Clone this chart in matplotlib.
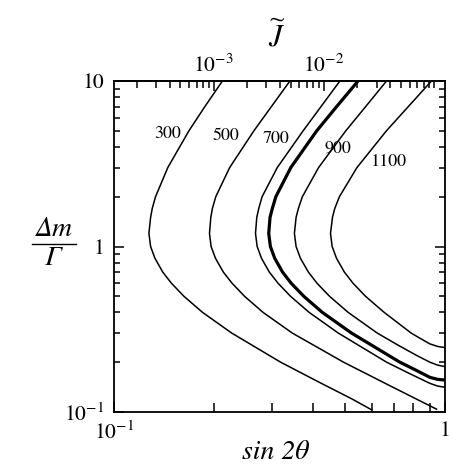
import matplotlib
matplotlib.use('Agg')
import matplotlib.pyplot as plt
from matplotlib.lines import Line2D
from matplotlib.ticker import NullFormatter, FixedLocator
import numpy as np

plt.rcParams['font.family'] = ['STIXGeneral', 'DejaVu Sans']
plt.rcParams['mathtext.fontset'] = 'stix'

# ---- data ----
y_300 = [10, 7, 5, 3, 2, 1.7, 1.5, 1.2, 1, 0.85, 0.7, 0.6, 0.5, 0.4, 0.3, 0.2, 0.15, 0.12, 0.103]
x_300 = [0.2126, 0.1881, 0.1684, 0.1454, 0.1335, 0.1305, 0.1290, 0.1275, 0.1290, 0.1329,
         0.1404, 0.1491, 0.1627, 0.1851, 0.2267, 0.3187, 0.4202, 0.5231, 0.6006]

y_500 = [10, 7, 5, 3, 2, 1.7, 1.5, 1.2, 1, 0.85, 0.7, 0.6, 0.5, 0.4, 0.3, 0.2, 0.15, 0.12, 0.104]
x_500 = [0.3400, 0.2988, 0.2646, 0.2236, 0.2030, 0.1983, 0.1961, 0.1943, 0.1965, 0.2025,
         0.2140, 0.2273, 0.2480, 0.2820, 0.3455, 0.4937, 0.6553, 0.8176, 0.9430]

y_700 = [10, 7, 5, 3, 2, 1.7, 1.5, 1.2, 1, 0.85, 0.7, 0.6, 0.5, 0.4, 0.3, 0.2, 0.171, 0.149,
         0.1435, 0.141]
x_700 = [0.4814, 0.4220, 0.3727, 0.3114, 0.2802, 0.2738, 0.2700, 0.2676, 0.2707, 0.2789,
         0.2947, 0.3130, 0.3415, 0.3886, 0.4759, 0.6661, 0.78, 0.90, 0.95, 1.0]

y_thick = [10, 7, 5, 3, 2, 1.7, 1.5, 1.2, 1, 0.85, 0.7, 0.6, 0.5, 0.4, 0.3, 0.2, 0.1805, 0.162,
           0.1575, 0.156]
x_thick = [0.5462, 0.4704, 0.4097, 0.3421, 0.3083, 0.3009, 0.2961, 0.2934, 0.2968, 0.3058,
           0.3231, 0.3430, 0.3745, 0.4259, 0.5217, 0.7303, 0.81, 0.90, 0.95, 1.0]

y_900 = [10, 7, 5, 3, 2, 1.7, 1.5, 1.2, 1, 0.85, 0.7, 0.6, 0.5, 0.4, 0.3, 0.254, 0.22, 0.2,
         0.192, 0.188]
x_900 = [0.6659, 0.5757, 0.5015, 0.4151, 0.3708, 0.3607, 0.3549, 0.3508, 0.3549, 0.3657,
         0.3867, 0.4105, 0.4480, 0.5097, 0.6240, 0.72, 0.82, 0.90, 0.95, 1.0]

y_1100 = [10, 7, 5, 3, 2, 1.7, 1.5, 1.2, 1, 0.85, 0.7, 0.6, 0.5, 0.4, 0.3, 0.279, 0.258,
          0.249, 0.245]
x_1100 = [0.9101, 0.7745, 0.6653, 0.5420, 0.4798, 0.4646, 0.4571, 0.4509, 0.4561, 0.4700,
          0.4967, 0.5273, 0.5755, 0.6549, 0.79, 0.84, 0.90, 0.95, 1.0]

label_text = ['300', '500', '700', '900', '1100']
label_x = [0.1456, 0.2181, 0.3086, 0.4733, 0.6774]
label_y = [4.785, 4.653, 4.462, 3.922, 3.218]

x_major = [0.1, 1]
x_major_labels = [r'$10^{-1}$', '1']
y_major = [0.1, 1, 10]
y_major_labels = [r'$10^{-1}$', '1', '10']
j_major = [1e-3, 1e-2]
j_major_labels = [r'$10^{-3}$', r'$10^{-2}$']
j_minor = [2e-4, 3e-4, 4e-4, 5e-4, 6e-4, 7e-4, 8e-4, 9e-4,
           2e-3, 3e-3, 4e-3, 5e-3, 6e-3, 7e-3, 8e-3, 9e-3,
           2e-2, 3e-2, 4e-2, 5e-2, 6e-2, 7e-2, 8e-2, 9e-2, 1e-1]

# ---- figure ----
fig = plt.figure(figsize=(4.69, 4.72), dpi=100)
ax = fig.add_axes([114/469, 1 - 412/472, 331/469, 331/472])
ax.set_xscale('log')
ax.set_yscale('log')

thin = dict(color='black', lw=1.1, solid_joinstyle='round')
ax.plot(x_300, y_300, **thin)
ax.plot(x_500, y_500, **thin)
ax.plot(x_700, y_700, **thin)
ax.plot(x_thick, y_thick, color='black', lw=2.3, solid_joinstyle='round')
ax.plot(x_900, y_900, **thin)
ax.plot(x_1100, y_1100, **thin)

for t, lx, ly in zip(label_text, label_x, label_y):
    ax.text(lx, ly, t, ha='center', va='center', fontsize=13)

ax.set_xlim(0.1, 1)
ax.set_ylim(0.1, 10)
ax.set_xticks(x_major, labels=x_major_labels)
ax.set_yticks(y_major, labels=y_major_labels)
ax.xaxis.set_minor_formatter(NullFormatter())
ax.yaxis.set_minor_formatter(NullFormatter())

for s in ax.spines.values():
    s.set_linewidth(1.3)

ax.tick_params(which='both', direction='in', top=False, right=True, width=1.1,
               labelsize=15.5)
ax.tick_params(which='major', length=7.5)
ax.tick_params(axis='y', which='minor', length=4.5)
ax.tick_params(axis='x', which='minor', length=6.5)
ax.tick_params(axis='y', pad=7)
ax.tick_params(axis='x', pad=7)

# top axis: J~ = (sin 2theta)^3 / 8
secax = ax.secondary_xaxis('top', functions=(lambda s: np.power(s, 3.0) / 8.0,
                                             lambda j: np.cbrt(8.0 * np.asarray(j))))
secax.set_xticks(j_major, labels=j_major_labels)
secax.xaxis.set_minor_locator(FixedLocator(j_minor))
secax.xaxis.set_minor_formatter(NullFormatter())
secax.tick_params(which='both', direction='in', width=1.1, labelsize=15.5, pad=3)
secax.tick_params(which='major', length=7.5)
secax.tick_params(which='minor', length=5)
secax.spines['top'].set_linewidth(1.3)

# axis titles
fig.text(277/469, 1 - 37/472, r'$\widetilde{J}$', ha='center', va='center', fontsize=22)
fig.text(275/469, 1 - 453/472, 'sin 2θ', ha='center', va='center', fontsize=20,
         style='italic')
fig.text(54/469, 1 - 230/472, 'Δm', ha='center', va='center', fontsize=20, style='italic')
fig.text(53/469, 1 - 259/472, 'Γ', ha='center', va='center', fontsize=20, style='italic')
fig.add_artist(Line2D([32/469, 76/469], [1 - 243.5/472, 1 - 243.5/472],
                      transform=fig.transFigure, color='black', lw=1.0))

fig.savefig('out.png', dpi=100)
